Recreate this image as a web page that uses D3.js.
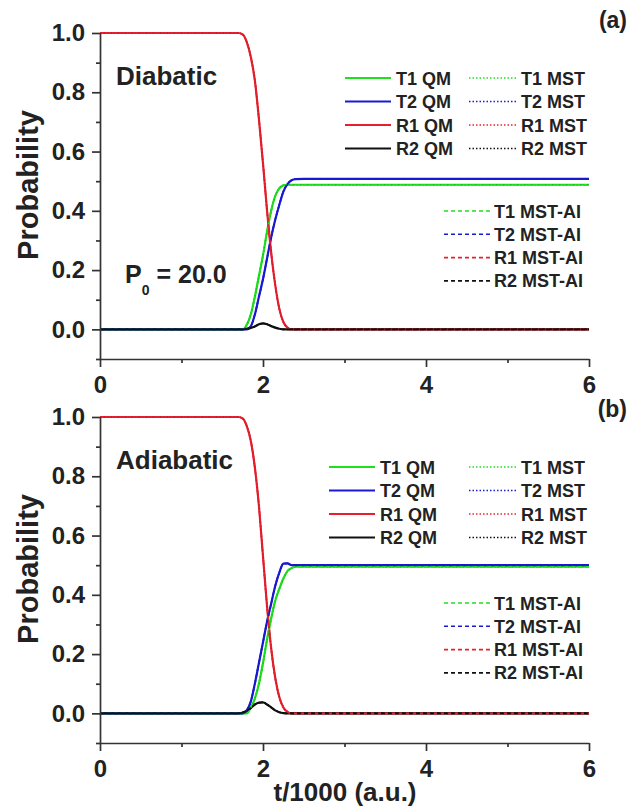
<!DOCTYPE html>
<html>
<head>
<meta charset="utf-8">
<title>Probability vs time</title>
<script src="https://d3js.org/d3.v7.min.js"></script>
<style>
  body { margin: 0; background: #fff; }
  svg text { font-family: "Liberation Sans", Arial, sans-serif; font-weight: bold; fill: #222; }
  .axis path, .axis line { stroke: #333; stroke-width: 1.7; }
</style>
</head>
<body>
<svg width="628" height="809"></svg>
<script>
// time grid, t/1000 (a.u.)
var times = [0, 1.6, 1.7, 1.75, 1.8, 1.85, 1.9, 1.95, 2.0, 2.05, 2.1, 2.15, 2.2, 2.25, 2.3, 2.35, 2.4, 2.5, 6];

// (a) diabatic
var diaT1 = [0, 0, 0, 0, 0.015, 0.05, 0.11, 0.18, 0.25, 0.33, 0.40, 0.45, 0.476, 0.486, 0.488, 0.488, 0.488, 0.488, 0.488];
var diaT2 = [0, 0, 0, 0, 0, 0.01, 0.05, 0.11, 0.17, 0.24, 0.31, 0.37, 0.42, 0.465, 0.49, 0.503, 0.507, 0.508, 0.508];
var diaR1 = [1, 1, 1, 0.995, 0.97, 0.92, 0.84, 0.71, 0.56, 0.40, 0.26, 0.15, 0.07, 0.025, 0.006, 0, 0, 0, 0];
var diaR2 = [0, 0, 0, 0, 0.002, 0.005, 0.01, 0.017, 0.02, 0.017, 0.011, 0.006, 0.002, 0, 0, 0, 0, 0, 0];

// (b) adiabatic
var adiT1 = [0, 0, 0, 0, 0, 0.02, 0.05, 0.10, 0.17, 0.25, 0.32, 0.38, 0.42, 0.455, 0.48, 0.49, 0.495, 0.495, 0.495];
var adiT2 = [0, 0, 0, 0, 0.01, 0.04, 0.10, 0.17, 0.24, 0.31, 0.37, 0.43, 0.475, 0.505, 0.506, 0.50, 0.50, 0.50, 0.50];
var adiR1 = [1, 1, 1, 0.995, 0.97, 0.92, 0.83, 0.70, 0.53, 0.36, 0.22, 0.12, 0.055, 0.02, 0.005, 0, 0, 0, 0];
var adiR2 = [0, 0, 0, 0.003, 0.008, 0.018, 0.03, 0.036, 0.037, 0.03, 0.02, 0.01, 0.004, 0.001, 0, 0, 0, 0, 0];

var seriesNames = ["T1", "T2", "R1", "R2"];
var colors = {T1: "#1ee01e", T2: "#1a1ad6", R1: "#e8202e", R2: "#111111"};
var yMajor = [0, 0.2, 0.4, 0.6, 0.8, 1.0];
var yMinor = [-0.1, 0.1, 0.3, 0.5, 0.7, 0.9];
var xMajor = [0, 2, 4, 6];
var xMinor = [1, 3, 5];

var svg = d3.select("svg");
var x = d3.scaleLinear().domain([0, 6]).range([100, 589]);

function panel(top, vals, opts) {
  var y = d3.scaleLinear().domain([-0.1, 1.0]).range([top + 326, top]);
  var g = svg.append("g");

  // curves: QM solid, MST dotted, MST-AI dashed
  var line = d3.line().x(function(d) { return x(d[0]); }).y(function(d) { return y(d[1]); }).curve(d3.curveMonotoneX);
  var styles = [
    {w: 2.2, dash: null, dark: 0},
    {w: 1.5, dash: "1.5,2", dark: 0.6},
    {w: 1.6, dash: "4,3", dark: 0}
  ];
  styles.forEach(function(st) {
    seriesNames.forEach(function(s) {
      var pts = times.map(function(t, i) { return [t, vals[s][i]]; });
      g.append("path").attr("d", line(pts))
        .attr("fill", "none").attr("stroke", d3.color(colors[s]).darker(st.dark))
        .attr("stroke-width", st.w)
        .attr("stroke-dasharray", st.dash);
    });
  });

  // axes
  g.append("g").attr("class", "axis").attr("transform", "translate(" + x(0) + ",0)")
    .call(d3.axisLeft(y).tickValues(yMajor).tickSize(8).tickSizeOuter(0).tickFormat(d3.format(".1f")))
    .call(function(a) { a.selectAll("text").style("font-size", "24px").attr("x", -15); });
  g.append("g").attr("class", "axis").attr("transform", "translate(" + x(0) + ",0)")
    .call(d3.axisLeft(y).tickValues(yMinor).tickSize(4).tickSizeOuter(0).tickFormat(""))
    .select(".domain").remove();
  g.append("g").attr("class", "axis").attr("transform", "translate(0," + y(-0.1) + ")")
    .call(d3.axisBottom(x).tickValues(xMajor).tickSize(8).tickSizeOuter(0).tickFormat(d3.format("d")))
    .call(function(a) { a.selectAll("text").style("font-size", "24px").attr("y", 17); });
  g.append("g").attr("class", "axis").attr("transform", "translate(0," + y(-0.1) + ")")
    .call(d3.axisBottom(x).tickValues(xMinor).tickSize(4).tickSizeOuter(0).tickFormat(""))
    .select(".domain").remove();
  g.selectAll(".axis text").attr("fill", "#222").style("font-family", "Liberation Sans, Arial, sans-serif").style("font-weight", "bold");

  // y label
  g.append("text").attr("transform", "translate(38," + (top + 152) + ") rotate(-90)")
    .attr("text-anchor", "middle").style("font-size", "29px").text("Probability");

  // panel tag and title
  g.append("text").attr("x", 627).attr("y", top - opts.tagUp).attr("text-anchor", "end")
    .style("font-size", "23px").text(opts.tag);
  g.append("text").attr("x", 116).attr("y", top + 52)
    .style("font-size", "26px").text(opts.title);

  // legend: QM + MST, then MST-AI
  seriesNames.forEach(function(s, i) {
    var ry = top + opts.legY + i * 23.5;
    g.append("line").attr("x1", opts.qmX).attr("x2", opts.qmX + 46).attr("y1", ry).attr("y2", ry)
      .attr("stroke", colors[s]).attr("stroke-width", 2.2);
    g.append("text").attr("x", opts.qmX + 51).attr("y", ry + 6.5).style("font-size", "18px").text(s + " QM");
    g.append("line").attr("x1", 469).attr("x2", 518).attr("y1", ry).attr("y2", ry)
      .attr("stroke", colors[s]).attr("stroke-width", 1.4).attr("stroke-dasharray", "1.5,2");
    g.append("text").attr("x", 521).attr("y", ry + 6.5).style("font-size", "18px").text(s + " MST");
    var ay = top + opts.aiY + i * 23.3;
    g.append("line").attr("x1", 444).attr("x2", 491).attr("y1", ay).attr("y2", ay)
      .attr("stroke", colors[s]).attr("stroke-width", 1.6).attr("stroke-dasharray", "4,3");
    g.append("text").attr("x", 494).attr("y", ay + 6.5).style("font-size", "18px").text(s + " MST-AI");
  });
  return y;
}

panel(33, {T1: diaT1, T2: diaT2, R1: diaR1, R2: diaR2},
  {tag: "(a)", title: "Diabatic", legY: 45, aiY: 178, qmX: 345, tagUp: 5});
panel(417, {T1: adiT1, T2: adiT2, R1: adiR1, R2: adiR2},
  {tag: "(b)", title: "Adiabatic", legY: 50, aiY: 186, qmX: 329, tagUp: 0});

// P0 label
var p = svg.append("text").attr("x", 125).attr("y", 283).style("font-size", "25px");
p.append("tspan").text("P");
p.append("tspan").attr("dy", 12).style("font-size", "14px").text("0");
p.append("tspan").attr("dy", -12).text(" = 20.0");

// x label
svg.append("text").attr("x", 345).attr("y", 801).attr("text-anchor", "middle")
  .style("font-size", "26px").text("t/1000 (a.u.)");
</script>
</body>
</html>
